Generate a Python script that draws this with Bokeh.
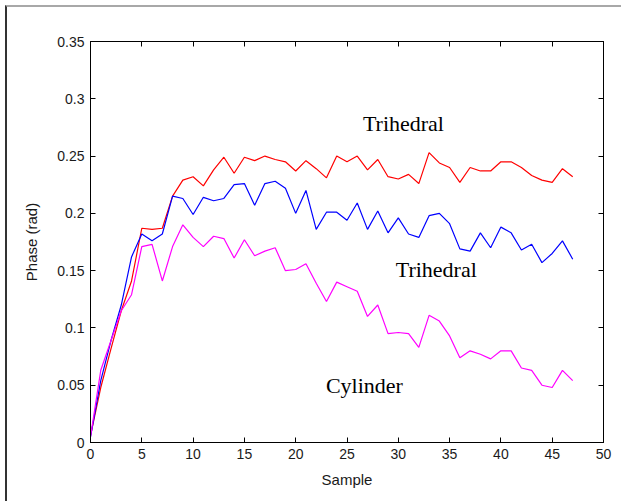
from bokeh.plotting import figure
from bokeh.models import (LinearAxis, FixedTicker, CustomJSTickFormatter,
                          Range1d, Label)
from bokeh.embed import file_html
from bokeh.resources import INLINE

# Phase per sample for the three targets
sample = list(range(48))
trihedral_upper = [0.006, 0.048, 0.082, 0.115, 0.141, 0.187, 0.186, 0.187, 0.215, 0.229,
                   0.232, 0.224, 0.238, 0.249, 0.235, 0.249, 0.246, 0.250, 0.247, 0.245,
                   0.237, 0.246, 0.239, 0.231, 0.250, 0.245, 0.250, 0.238, 0.247, 0.232,
                   0.230, 0.234, 0.226, 0.253, 0.244, 0.240, 0.227, 0.240, 0.237, 0.237,
                   0.245, 0.245, 0.240, 0.233, 0.229, 0.227, 0.239, 0.232]
trihedral_lower = [0.005, 0.054, 0.089, 0.120, 0.162, 0.182, 0.176, 0.182, 0.215, 0.213,
                   0.199, 0.214, 0.211, 0.213, 0.225, 0.226, 0.207, 0.226, 0.228, 0.222,
                   0.200, 0.220, 0.186, 0.201, 0.201, 0.194, 0.209, 0.186, 0.202, 0.183,
                   0.196, 0.182, 0.179, 0.198, 0.200, 0.191, 0.169, 0.167, 0.183, 0.170,
                   0.188, 0.183, 0.168, 0.173, 0.157, 0.165, 0.176, 0.160]
cylinder = [0.005, 0.063, 0.089, 0.115, 0.129, 0.171, 0.173, 0.141, 0.171, 0.190,
            0.179, 0.171, 0.180, 0.178, 0.161, 0.177, 0.163, 0.167, 0.170, 0.150,
            0.151, 0.156, 0.139, 0.123, 0.140, 0.136, 0.132, 0.110, 0.120, 0.095,
            0.096, 0.095, 0.083, 0.111, 0.106, 0.093, 0.074, 0.080, 0.077, 0.073,
            0.080, 0.080, 0.065, 0.063, 0.050, 0.048, 0.063, 0.054]

x_ticks = [0, 5, 10, 15, 20, 25, 30, 35, 40, 45, 50]
y_ticks = [0, 0.05, 0.1, 0.15, 0.2, 0.25, 0.3, 0.35]
y_tick_labels = ["0", "0.05", "0.1", "0.15", "0.2", "0.25", "0.3", "0.35"]

label_texts = ["Trihedral", "Trihedral", "Cylinder"]
label_x = [30.5, 33.7, 26.7]
label_y = [0.278, 0.151, 0.050]

p = figure(width=616, height=496,
           x_range=Range1d(0, 50), y_range=Range1d(0, 0.35),
           x_axis_label="Sample", y_axis_label="Phase (rad)",
           output_backend="svg", toolbar_location=None,
           min_border_left=83, min_border_right=20,
           min_border_top=34, min_border_bottom=61)
p.margin = (5, 0, 0, 5)
p.styles = {"border-left": "2px solid #333333", "border-top": "2px solid #a8a8a8"}

p.grid.visible = False
p.outline_line_color = "black"
p.outline_line_width = 1
p.background_fill_color = "white"
p.border_fill_color = "white"

p.add_layout(LinearAxis(), "above")
p.add_layout(LinearAxis(), "right")

y_fmt = CustomJSTickFormatter(args=dict(ticks_list=y_ticks, labels=y_tick_labels), code="""
    const i = ticks_list.findIndex(t => Math.abs(t - tick) < 1e-9);
    return i >= 0 ? labels[i] : "";
""")

for ax in p.xaxis:
    ax.ticker = FixedTicker(ticks=x_ticks)
for ax in p.yaxis:
    ax.ticker = FixedTicker(ticks=y_ticks)
    ax.formatter = y_fmt

for ax in p.axis:
    ax.major_tick_in = 5
    ax.major_tick_out = 0
    ax.minor_tick_line_color = None
    ax.axis_line_color = "black"
    ax.major_tick_line_color = "black"
    ax.major_label_text_font = "Liberation Sans"
    ax.major_label_text_font_size = "14px"
    ax.major_label_text_color = "#1a1a1a"
    ax.axis_label_text_font = "Liberation Sans"
    ax.axis_label_text_font_size = "15px"
    ax.axis_label_text_font_style = "normal"
    ax.axis_label_text_color = "#1a1a1a"

p.below[0].major_label_standoff = 6
p.below[0].axis_label_standoff = 9
p.left[0].major_label_standoff = 6
p.left[0].axis_label_standoff = 14

for ax in (p.above[0], p.right[0]):
    ax.major_label_text_alpha = 0
    ax.major_label_text_font_size = "1px"

p.line(sample, trihedral_upper, line_color="#ff0000", line_width=1.2)
p.line(sample, trihedral_lower, line_color="#0000ff", line_width=1.2)
p.line(sample, cylinder, line_color="#ff00ff", line_width=1.2)

for t, lx, ly in zip(label_texts, label_x, label_y):
    p.add_layout(Label(x=lx, y=ly, text=t, text_align="center",
                       text_baseline="alphabetic",
                       text_font="Liberation Serif", text_font_size="22px",
                       text_color="black"))

open("out.html", "w").write(file_html(p, INLINE))
